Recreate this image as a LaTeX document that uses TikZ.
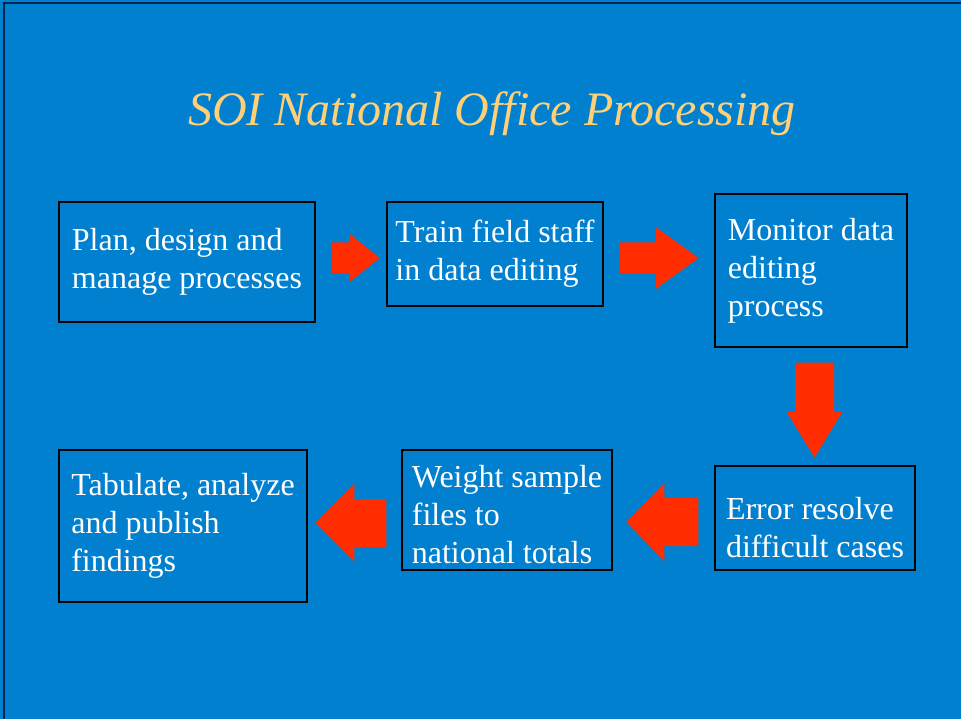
\documentclass[tikz,border=0pt]{standalone}
\usepackage{fontspec}
\setmainfont{Liberation Serif}
\usetikzlibrary{calc}
\definecolor{slideblue}{RGB}{0,128,206}
\definecolor{framenavy}{RGB}{0,40,80}
\definecolor{titlegold}{RGB}{255,208,120}
\definecolor{arrowred}{RGB}{255,45,0}

% #1 tail point, #2 direction, #3 shaft length, #4 shaft half width,
% #5 head length, #6 head half width
\newcommand{\fatarrow}[6]{%
   \fill[arrowred,shift={#1},rotate=#2] (0,-#4) -- (#3,-#4) -- (#3,-#6)
      -- ({#3+#5},0) -- (#3,#6) -- (#3,#4) -- (0,#4) -- cycle;}

\begin{document}
\begin{tikzpicture}[x=1pt,y=-1pt,
   stage/.style={draw=black,line width=1.3pt,align=left,text=white,
      inner sep=0pt,font=\fontsize{32}{38}\selectfont}]
   \useasboundingbox (0,0) rectangle (961,719);
   \fill[slideblue] (0,0) rectangle (961,719);
   \draw[framenavy,line width=1.5pt] (4,719) -- (4,3) -- (961,3);

   \node[text=titlegold,anchor=base,font=\fontsize{48}{58}\selectfont\itshape]
      (title) at (492,126) {SOI National Office Processing};

   \node[stage,minimum width=256pt,minimum height=120pt] (plan) at (187,262)
      {Plan, design and\\manage processes};
   \node[stage,minimum width=216pt,minimum height=104pt] (train) at (495,254)
      {Train field staff\\in data editing};
   \node[stage,minimum width=192pt,minimum height=153pt] (monitor) at (811,270.5)
      {Monitor data\\editing\\process};
   \node[stage,minimum width=200pt,minimum height=104pt] (error) at (815,518)
      {\rule{0pt}{42pt}Error resolve\\difficult cases};
   \node[stage,minimum width=210pt,minimum height=120pt] (weight) at (507,510)
      {\rule{0pt}{32pt}Weight sample\\files to\\national totals};
   \node[stage,minimum width=248pt,minimum height=152pt] (tabulate) at (183,526)
      {Tabulate, analyze\\and publish\\findings};

   \fatarrow{($(plan.east)+(16,-4)$)}{0}{18}{15.5}{30}{24}
   \fatarrow{($(train.east)+(16,4)$)}{0}{36}{15.5}{43}{31}
   \fatarrow{($(monitor.south)+(3.5,15)$)}{-90}{49}{19.5}{46}{28}
   \fatarrow{($(error.west)+(-16,4)$)}{180}{34}{24}{38}{39}
   \fatarrow{($(weight.west)+(-15,13)$)}{180}{32}{24}{39}{39}
\end{tikzpicture}
\end{document}
